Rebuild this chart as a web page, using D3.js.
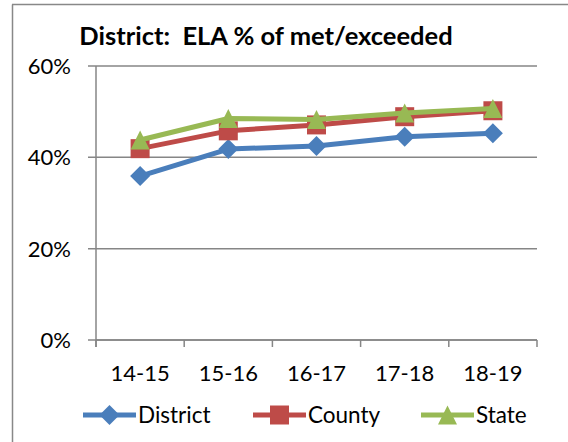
<!DOCTYPE html>
<html>
<head>
<meta charset="utf-8">
<script src="https://cdn.jsdelivr.net/npm/d3@7"></script>
<style>
  body { margin: 0; background: #fff; }
  svg { display: block; font-family: Lato, "Open Sans", sans-serif; }
</style>
</head>
<body>
<svg id="chart" width="568" height="442"></svg>
<script>
var years = ['14-15', '15-16', '16-17', '17-18', '18-19'];
var district = [35.9, 41.8, 42.5, 44.5, 45.3];
var county = [41.9, 45.8, 47.1, 48.9, 50.2];
var state = [43.8, 48.5, 48.3, 49.7, 50.7];
var yTicks = [0, 20, 40, 60];

var series = [
  { name: 'District', values: district, color: '#4A7EBB', shape: 'diamond' },
  { name: 'County', values: county, color: '#BE4B48', shape: 'square' },
  { name: 'State', values: state, color: '#98B954', shape: 'triangle' }
];

var svg = d3.select('#chart');
var plotL = 96, plotR = 537, plotT = 66, plotB = 340;

var x = d3.scaleBand().domain(years).range([plotL, plotR]);
var y = d3.scaleLinear().domain([0, 60]).range([plotB, plotT]);
var cx = function(d, i) { return x(years[i]) + x.bandwidth() / 2; };

// outer frame (only left and top edges show)
svg.append('line').attr('x1', 12.5).attr('x2', 12.5).attr('y1', 4.5).attr('y2', 442)
  .attr('stroke', '#888').attr('stroke-width', 1.5);
svg.append('line').attr('x1', 12).attr('x2', 568).attr('y1', 4.5).attr('y2', 4.5)
  .attr('stroke', '#888').attr('stroke-width', 1.5);

svg.append('text')
  .attr('x', 266).attr('y', 45)
  .attr('text-anchor', 'middle')
  .attr('font-weight', 'bold')
  .attr('font-size', 25.5)
  .style('white-space', 'pre')
  .text('District:  ELA % of met/exceeded');

// gridlines + y labels
svg.selectAll('.grid').data(yTicks).enter().append('line')
  .attr('x1', plotL - 8).attr('x2', plotR)
  .attr('y1', function(d) { return y(d); }).attr('y2', function(d) { return y(d); })
  .attr('stroke', '#868686').attr('stroke-width', 1.5);

svg.selectAll('.ylab').data(yTicks).enter().append('text')
  .attr('x', 71).attr('y', function(d) { return y(d); })
  .attr('dy', '0.36em')
  .attr('text-anchor', 'end')
  .attr('font-size', 22)
  .text(function(d) { return d + '%'; });

// axes
svg.append('line').attr('x1', plotL).attr('x2', plotL).attr('y1', plotT).attr('y2', plotB + 7)
  .attr('stroke', '#868686').attr('stroke-width', 1.5);
svg.append('line').attr('x1', plotL).attr('x2', plotR).attr('y1', plotB).attr('y2', plotB)
  .attr('stroke', '#868686').attr('stroke-width', 1.5);
svg.selectAll('.xtick').data(d3.range(years.length + 1)).enter().append('line')
  .attr('x1', function(i) { return plotL + i * x.step(); })
  .attr('x2', function(i) { return plotL + i * x.step(); })
  .attr('y1', plotB).attr('y2', plotB + 7)
  .attr('stroke', '#868686').attr('stroke-width', 1.5);

svg.selectAll('.xlab').data(years).enter().append('text')
  .attr('x', function(d) { return x(d) + x.bandwidth() / 2; })
  .attr('y', 381)
  .attr('text-anchor', 'middle')
  .attr('font-size', 22)
  .text(function(d) { return d; });

// excel-like markers, size = half width
var shapes = {
  diamond: { draw: function(c, r) { c.moveTo(0, -r); c.lineTo(r, 0); c.lineTo(0, r); c.lineTo(-r, 0); c.closePath(); } },
  square: { draw: function(c, r) { c.rect(-r, -r, 2 * r, 2 * r); } },
  triangle: { draw: function(c, r) { c.moveTo(0, -r); c.lineTo(r, r); c.lineTo(-r, r); c.closePath(); } }
};
var symbols = {
  diamond: d3.symbol().type(shapes.diamond).size(10),
  square: d3.symbol().type(shapes.square).size(9.5),
  triangle: d3.symbol().type(shapes.triangle).size(9.5)
};

var line = d3.line()
  .x(cx)
  .y(function(d) { return y(d); });

series.forEach(function(s) {
  var g = svg.append('g');
  g.append('path')
    .attr('d', line(s.values))
    .attr('fill', 'none')
    .attr('stroke', s.color)
    .attr('stroke-width', 5)
    .attr('stroke-linejoin', 'round');
  g.selectAll('path.mk').data(s.values).enter().append('path')
    .attr('class', 'mk')
    .attr('d', symbols[s.shape])
    .attr('transform', function(d, i) { return 'translate(' + cx(d, i) + ',' + y(d) + ')'; })
    .attr('fill', s.color);
});

// legend
var legendX = [83, 253, 421];
var legend = svg.selectAll('.leg').data(series).enter().append('g')
  .attr('transform', function(d, i) { return 'translate(' + legendX[i] + ',415)'; });
legend.append('line').attr('x1', 0).attr('x2', 53).attr('y1', 0).attr('y2', 0)
  .attr('stroke', function(d) { return d.color; }).attr('stroke-width', 5);
legend.append('path')
  .attr('d', function(d) { return symbols[d.shape](); })
  .attr('transform', 'translate(26.5,0)')
  .attr('fill', function(d) { return d.color; });
legend.append('text')
  .attr('x', 55).attr('dy', '0.36em')
  .attr('font-size', 22.5)
  .text(function(d) { return d.name; });
</script>
</body>
</html>
